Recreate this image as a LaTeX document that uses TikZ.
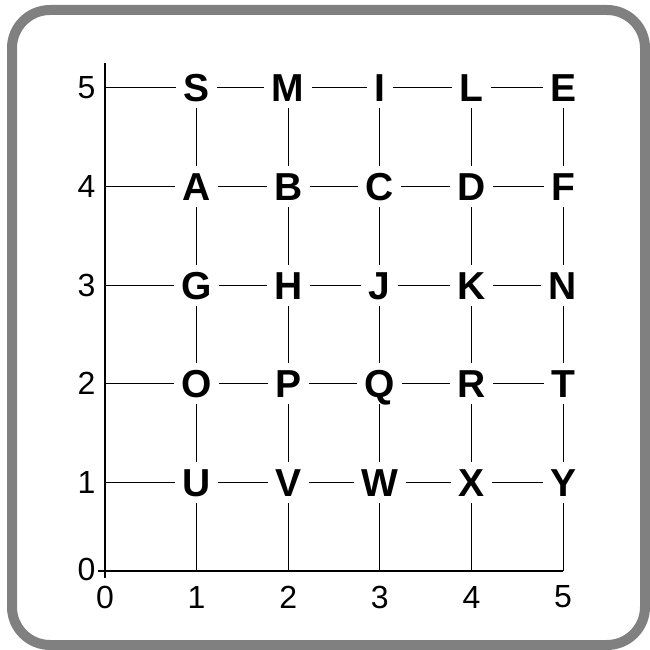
\documentclass[tikz,border=0pt]{standalone}
\usepackage{fontspec}
\setmainfont{Liberation Sans}
\usetikzlibrary{positioning}
\definecolor{cframe}{HTML}{808080}
\tikzset{
  every picture/.style={x=1pt, y=-1pt, line width=1pt},
  letter/.style={font=\fontsize{39}{39}\selectfont\bfseries, inner xsep=7pt, inner ysep=6pt, text height=28pt, text depth=0pt},
  tick/.style={font=\fontsize{32}{32}\selectfont, inner sep=0pt},
  grid/.style={draw=black, line width=1pt},
  axis/.style={draw=black, line width=2.6pt},
  frame/.style={draw=cframe, line width=10pt, rounded corners=38pt},
}

\begin{document}
\begin{tikzpicture}
  \useasboundingbox (0,0) rectangle (649,650);
  \draw[frame] (12,10) rectangle (645,645);
  % letters, one row each
  \foreach \l [count=\c] in {S,M,I,L,E} \node[letter] (\l) at ({105+91.6*\c},88) {\l};
  \foreach \l [count=\c] in {A,B,C,D,F} \node[letter] (\l) at ({105+91.6*\c},186.6) {\l};
  \foreach \l [count=\c] in {G,H,J,K,N} \node[letter] (\l) at ({105+91.6*\c},285.2) {\l};
  \foreach \l [count=\c] in {O,P,Q,R,T} \node[letter] (\l) at ({105+91.6*\c},383.8) {\l};
  \foreach \l [count=\c] in {U,V,W,X,Y} \node[letter] (\l) at ({105+91.6*\c},482.4) {\l};
  % axes
  \coordinate (ytop) at (105,63);
  \coordinate (ybot) at (105,578);
  \coordinate (xleft) at (98,571);
  \coordinate (xright) at (563,571);
  \draw[axis] (ytop) -- (ybot);
  \draw[axis] (xleft) -- (xright);
  % free ends on the axes
  \foreach \y [count=\r] in {482.4,383.8,285.2,186.6,88} \coordinate (y\r) at (105,\y);
  \foreach \c in {1,...,5} \coordinate (x\c) at ({105+91.6*\c},571);
  % rows
  \draw[grid] (y5) -- (S) -- (M) -- (I) -- (L) -- (E);
  \draw[grid] (y4) -- (A) -- (B) -- (C) -- (D) -- (F);
  \draw[grid] (y3) -- (G) -- (H) -- (J) -- (K) -- (N);
  \draw[grid] (y2) -- (O) -- (P) -- (Q) -- (R) -- (T);
  \draw[grid] (y1) -- (U) -- (V) -- (W) -- (X) -- (Y);
  % columns
  \draw[grid] (S) -- (A) -- (G) -- (O) -- (U) -- (x1);
  \draw[grid] (M) -- (B) -- (H) -- (P) -- (V) -- (x2);
  \draw[grid] (I) -- (C) -- (J) -- (Q) -- (W) -- (x3);
  \draw[grid] (L) -- (D) -- (K) -- (R) -- (X) -- (x4);
  \draw[grid] (E) -- (F) -- (N) -- (T) -- (Y) -- (x5);
  % tick labels
  \node[tick, anchor=east] (ly0) at (96,569) {0};
  \foreach \y [count=\r] in {482.4,383.8,285.2,186.6,88} \node[tick, anchor=east] (ly\r) at (96,\y) {\r};
  \foreach \c in {0,...,5} \node[tick] (lx\c) at ({105+91.6*\c},597) {\c};
\end{tikzpicture}
\end{document}
